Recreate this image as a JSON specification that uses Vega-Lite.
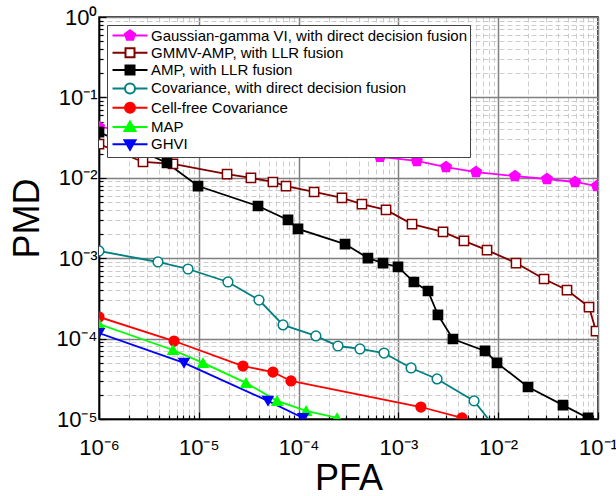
{
  "$schema": "https://vega.github.io/schema/vega-lite/v6.json",
  "width": 499,
  "height": 402,
  "autosize": {"type": "none"},
  "padding": {"left": 99, "top": 17, "right": 18, "bottom": 77},
  "background": "white",
  "config": {
    "view": {"stroke": "black", "strokeWidth": 1.5},
    "font": "Liberation Sans"
  },
  "data": {
    "values": [
      {"s": "Gaussian-gamma VI, with direct decision fusion", "x": 1e-6, "y": 0.0428},
      {"s": "Gaussian-gamma VI, with direct decision fusion", "x": 6.55e-4, "y": 0.0182},
      {"s": "Gaussian-gamma VI, with direct decision fusion", "x": 1.53e-3, "y": 0.0162},
      {"s": "Gaussian-gamma VI, with direct decision fusion", "x": 3.0e-3, "y": 0.0136},
      {"s": "Gaussian-gamma VI, with direct decision fusion", "x": 6.0e-3, "y": 0.0118},
      {"s": "Gaussian-gamma VI, with direct decision fusion", "x": 0.0147, "y": 0.0105},
      {"s": "Gaussian-gamma VI, with direct decision fusion", "x": 0.0308, "y": 0.00966},
      {"s": "Gaussian-gamma VI, with direct decision fusion", "x": 0.0589, "y": 0.00887},
      {"s": "Gaussian-gamma VI, with direct decision fusion", "x": 0.0977, "y": 0.0079},
      {"s": "GMMV-AMP, with LLR fusion", "x": 1e-6, "y": 0.0263},
      {"s": "GMMV-AMP, with LLR fusion", "x": 2.76e-6, "y": 0.01573},
      {"s": "GMMV-AMP, with LLR fusion", "x": 5.51e-6, "y": 0.01486},
      {"s": "GMMV-AMP, with LLR fusion", "x": 1.92e-5, "y": 0.01114},
      {"s": "GMMV-AMP, with LLR fusion", "x": 3.33e-5, "y": 0.00995},
      {"s": "GMMV-AMP, with LLR fusion", "x": 5.53e-5, "y": 0.00887},
      {"s": "GMMV-AMP, with LLR fusion", "x": 7.48e-5, "y": 0.0079},
      {"s": "GMMV-AMP, with LLR fusion", "x": 1.43e-4, "y": 0.00666},
      {"s": "GMMV-AMP, with LLR fusion", "x": 2.72e-4, "y": 0.00561},
      {"s": "GMMV-AMP, with LLR fusion", "x": 4.31e-4, "y": 0.00472},
      {"s": "GMMV-AMP, with LLR fusion", "x": 7.52e-4, "y": 0.00398},
      {"s": "GMMV-AMP, with LLR fusion", "x": 1.37e-3, "y": 0.00266},
      {"s": "GMMV-AMP, with LLR fusion", "x": 2.80e-3, "y": 0.00212},
      {"s": "GMMV-AMP, with LLR fusion", "x": 4.54e-3, "y": 0.00164},
      {"s": "GMMV-AMP, with LLR fusion", "x": 7.73e-3, "y": 0.00126},
      {"s": "GMMV-AMP, with LLR fusion", "x": 0.0151, "y": 8.71e-4},
      {"s": "GMMV-AMP, with LLR fusion", "x": 0.0288, "y": 5.51e-4},
      {"s": "GMMV-AMP, with LLR fusion", "x": 0.0489, "y": 4.02e-4},
      {"s": "GMMV-AMP, with LLR fusion", "x": 0.0813, "y": 2.47e-4},
      {"s": "GMMV-AMP, with LLR fusion", "x": 0.0955, "y": 1.24e-4},
      {"s": "AMP, with LLR fusion", "x": 1e-6, "y": 0.0371},
      {"s": "AMP, with LLR fusion", "x": 4.80e-6, "y": 0.0153},
      {"s": "AMP, with LLR fusion", "x": 9.82e-6, "y": 0.0079},
      {"s": "AMP, with LLR fusion", "x": 3.92e-5, "y": 0.00446},
      {"s": "AMP, with LLR fusion", "x": 7.83e-5, "y": 0.00299},
      {"s": "AMP, with LLR fusion", "x": 9.86e-5, "y": 0.00231},
      {"s": "AMP, with LLR fusion", "x": 2.92e-4, "y": 0.0015},
      {"s": "AMP, with LLR fusion", "x": 4.95e-4, "y": 0.001005},
      {"s": "AMP, with LLR fusion", "x": 7.01e-4, "y": 8.71e-4},
      {"s": "AMP, with LLR fusion", "x": 9.91e-4, "y": 7.78e-4},
      {"s": "AMP, with LLR fusion", "x": 1.43e-3, "y": 5.06e-4},
      {"s": "AMP, with LLR fusion", "x": 1.98e-3, "y": 3.91e-4},
      {"s": "AMP, with LLR fusion", "x": 2.49e-3, "y": 1.97e-4},
      {"s": "AMP, with LLR fusion", "x": 3.52e-3, "y": 9.89e-5},
      {"s": "AMP, with LLR fusion", "x": 7.38e-3, "y": 7.02e-5},
      {"s": "AMP, with LLR fusion", "x": 9.73e-3, "y": 4.98e-5},
      {"s": "AMP, with LLR fusion", "x": 0.0199, "y": 2.50e-5},
      {"s": "AMP, with LLR fusion", "x": 0.0446, "y": 1.49e-5},
      {"s": "AMP, with LLR fusion", "x": 0.0794, "y": 1.03e-5},
      {"s": "Covariance, with direct decision fusion", "x": 1e-6, "y": 1.23e-3},
      {"s": "Covariance, with direct decision fusion", "x": 3.90e-6, "y": 8.97e-4},
      {"s": "Covariance, with direct decision fusion", "x": 7.80e-6, "y": 7.34e-4},
      {"s": "Covariance, with direct decision fusion", "x": 1.96e-5, "y": 5.06e-4},
      {"s": "Covariance, with direct decision fusion", "x": 4.01e-5, "y": 3.02e-4},
      {"s": "Covariance, with direct decision fusion", "x": 6.98e-5, "y": 1.48e-4},
      {"s": "Covariance, with direct decision fusion", "x": 1.49e-4, "y": 1.08e-4},
      {"s": "Covariance, with direct decision fusion", "x": 2.48e-4, "y": 8.09e-5},
      {"s": "Covariance, with direct decision fusion", "x": 4.12e-4, "y": 7.43e-5},
      {"s": "Covariance, with direct decision fusion", "x": 7.18e-4, "y": 6.62e-5},
      {"s": "Covariance, with direct decision fusion", "x": 1.34e-3, "y": 4.31e-5},
      {"s": "Covariance, with direct decision fusion", "x": 2.44e-3, "y": 3.15e-5},
      {"s": "Covariance, with direct decision fusion", "x": 5.73e-3, "y": 1.68e-5},
      {"s": "Covariance, with direct decision fusion", "x": 9.73e-3, "y": 7.3e-6},
      {"s": "Cell-free Covariance", "x": 1e-6, "y": 1.86e-4},
      {"s": "Cell-free Covariance", "x": 5.65e-6, "y": 9.33e-5},
      {"s": "Cell-free Covariance", "x": 2.77e-5, "y": 4.56e-5},
      {"s": "Cell-free Covariance", "x": 5.53e-5, "y": 3.84e-5},
      {"s": "Cell-free Covariance", "x": 8.39e-5, "y": 2.97e-5},
      {"s": "Cell-free Covariance", "x": 1.68e-3, "y": 1.41e-5},
      {"s": "Cell-free Covariance", "x": 4.34e-3, "y": 1.03e-5},
      {"s": "MAP", "x": 1e-6, "y": 1.52e-4},
      {"s": "MAP", "x": 5.51e-6, "y": 7.21e-5},
      {"s": "MAP", "x": 1.10e-5, "y": 4.98e-5},
      {"s": "MAP", "x": 2.97e-5, "y": 2.81e-5},
      {"s": "MAP", "x": 6.08e-5, "y": 1.68e-5},
      {"s": "MAP", "x": 1.19e-4, "y": 1.26e-5},
      {"s": "MAP", "x": 2.43e-4, "y": 1.03e-5},
      {"s": "GHVI", "x": 1e-6, "y": 1.17e-4},
      {"s": "GHVI", "x": 7.11e-6, "y": 4.98e-5},
      {"s": "GHVI", "x": 4.93e-5, "y": 1.68e-5},
      {"s": "GHVI", "x": 1.11e-4, "y": 1.03e-5}
    ]
  },
  "layer": [
    {
      "mark": {"type": "line", "strokeWidth": 1.8, "clip": true},
      "encoding": {
        "x": {
          "field": "x",
          "type": "quantitative",
          "scale": {"type": "log", "domain": [1e-6, 0.1], "nice": false},
          "axis": {
            "values": [1e-6, 2e-6, 3e-6, 4e-6, 5e-6, 6e-6, 7e-6, 8e-6, 9e-6, 1e-5, 2e-5, 3e-5, 4e-5, 5e-5, 6e-5, 7e-5, 8e-5, 9e-5, 1e-4, 2e-4, 3e-4, 4e-4, 5e-4, 6e-4, 7e-4, 8e-4, 9e-4, 1e-3, 2e-3, 3e-3, 4e-3, 5e-3, 6e-3, 7e-3, 8e-3, 9e-3, 0.01, 0.02, 0.03, 0.04, 0.05, 0.06, 0.07, 0.08, 0.09, 0.1],
            "labelExpr": "abs(log(datum.value)/LN10 - round(log(datum.value)/LN10)) < 0.000001 ? '10' + (round(log(datum.value)/LN10) < 0 ? '⁻' : '') + ['⁰','¹','²','³','⁴','⁵','⁶'][abs(round(log(datum.value)/LN10))] : ''",
            "labelFontSize": 22,
            "labelFont": "Liberation Sans",
            "labelColor": "black",
            "labelPadding": 25,
            "labelFlush": false,
            "labelOverlap": false,
            "domainColor": "black",
            "domainWidth": 1.5,
            "tickColor": "black",
            "tickWidth": 1.2,
            "tickSize": {"condition": {"test": "abs(log(datum.value)/LN10 - round(log(datum.value)/LN10)) < 0.000001", "value": -7}, "value": -4},
            "grid": true,
            "gridColor": {"condition": {"test": "abs(log(datum.value)/LN10 - round(log(datum.value)/LN10)) < 0.000001", "value": "#808080"}, "value": "#cccccc"},
            "gridDash": {"condition": {"test": "abs(log(datum.value)/LN10 - round(log(datum.value)/LN10)) < 0.000001", "value": []}, "value": [5, 3]},
            "gridWidth": {"condition": {"test": "abs(log(datum.value)/LN10 - round(log(datum.value)/LN10)) < 0.000001", "value": 1.5}, "value": 1},
            "title": "PFA",
            "titleFont": "Liberation Sans",
            "titleFontSize": 36,
            "titleFontWeight": "normal",
            "titleColor": "black",
            "titlePadding": 0
          }
        },
        "y": {
          "field": "y",
          "type": "quantitative",
          "scale": {"type": "log", "domain": [1e-5, 1], "nice": false},
          "axis": {
            "values": [1e-5, 2e-5, 3e-5, 4e-5, 5e-5, 6e-5, 7e-5, 8e-5, 9e-5, 1e-4, 2e-4, 3e-4, 4e-4, 5e-4, 6e-4, 7e-4, 8e-4, 9e-4, 1e-3, 2e-3, 3e-3, 4e-3, 5e-3, 6e-3, 7e-3, 8e-3, 9e-3, 0.01, 0.02, 0.03, 0.04, 0.05, 0.06, 0.07, 0.08, 0.09, 0.1, 0.2, 0.3, 0.4, 0.5, 0.6, 0.7, 0.8, 0.9, 1],
            "labelExpr": "abs(log(datum.value)/LN10 - round(log(datum.value)/LN10)) < 0.000001 ? '10' + (round(log(datum.value)/LN10) < 0 ? '⁻' : '') + ['⁰','¹','²','³','⁴','⁵','⁶'][abs(round(log(datum.value)/LN10))] : ''",
            "labelFontSize": 22,
            "labelFont": "Liberation Sans",
            "labelColor": "black",
            "labelPadding": 9,
            "labelFlush": false,
            "labelOverlap": false,
            "domainColor": "black",
            "domainWidth": 1.5,
            "tickColor": "black",
            "tickWidth": 1.2,
            "tickSize": {"condition": {"test": "abs(log(datum.value)/LN10 - round(log(datum.value)/LN10)) < 0.000001", "value": -7}, "value": -4},
            "grid": true,
            "gridColor": {"condition": {"test": "abs(log(datum.value)/LN10 - round(log(datum.value)/LN10)) < 0.000001", "value": "#808080"}, "value": "#cccccc"},
            "gridDash": {"condition": {"test": "abs(log(datum.value)/LN10 - round(log(datum.value)/LN10)) < 0.000001", "value": []}, "value": [5, 3]},
            "gridWidth": {"condition": {"test": "abs(log(datum.value)/LN10 - round(log(datum.value)/LN10)) < 0.000001", "value": 1.5}, "value": 1},
            "title": "PMD",
            "titleFont": "Liberation Sans",
            "titleFontSize": 36,
            "titleFontWeight": "normal",
            "titleColor": "black",
            "titlePadding": 10
          }
        },
        "color": {
          "field": "s",
          "type": "nominal",
          "scale": {
            "domain": ["Gaussian-gamma VI, with direct decision fusion", "GMMV-AMP, with LLR fusion", "AMP, with LLR fusion", "Covariance, with direct decision fusion", "Cell-free Covariance", "MAP", "GHVI"],
            "range": ["#FF00FF", "#800000", "#000000", "#008080", "#FF0000", "#00FF00", "#0000FF"]
          },
          "legend": {
            "title": null,
            "orient": "top-left",
            "offset": 8,
            "padding": 3,
            "rowPadding": 0.3,
            "strokeColor": "#444444",
            "fillColor": "white",
            "cornerRadius": 0,
            "symbolSize": 100,
            "symbolStrokeWidth": 2,
            "labelFont": "Liberation Sans",
            "labelFontSize": 15,
            "labelColor": "black",
            "labelOffset": 26,
            "labelLimit": 400,
            "encode": {
              "symbols": {
                "update": {
                  "shape": {"signal": "['M-1,0H6M2.5,-1.05L3.5,-0.32L3.12,0.85L1.88,0.85L1.5,-0.32Z','M-1,0H1.6M3.4,0H6M1.6,-0.9H3.4V0.9H1.6Z','M-1,0H6M1.6,-0.9H3.4V0.9H1.6Z','M-1,0H1.5M3.5,0H6M1.5,0A1,1 0 1,0 3.5,0A1,1 0 1,0 1.5,0Z','M-1,0H6M1.5,0A1,1 0 1,0 3.5,0A1,1 0 1,0 1.5,0Z','M-1,0H6M2.5,-1.1L3.6,0.8L1.4,0.8Z','M-1,0H6M2.5,1.1L3.6,-0.8L1.4,-0.8Z'][indexof(['Gaussian-gamma VI, with direct decision fusion','GMMV-AMP, with LLR fusion','AMP, with LLR fusion','Covariance, with direct decision fusion','Cell-free Covariance','MAP','GHVI'], datum.value)]"},
                  "fill": {"signal": "['#FF00FF','white','#000000','white','#FF0000','#00FF00','#0000FF'][indexof(['Gaussian-gamma VI, with direct decision fusion','GMMV-AMP, with LLR fusion','AMP, with LLR fusion','Covariance, with direct decision fusion','Cell-free Covariance','MAP','GHVI'], datum.value)]"},
                  "fillOpacity": {"value": 1},
                  "strokeWidth": {"value": 2}
                }
              }
            }
          }
        }
      }
    },
    {
      "transform": [{"filter": {"field": "s", "oneOf": ["Gaussian-gamma VI, with direct decision fusion"]}}],
      "mark": {"type": "point", "clip": true, "opacity": 1, "fillOpacity": 1, "strokeWidth": 1.5, "size": 110, "shape": "M0,-1.05L1,-0.32L0.62,0.85L-0.62,0.85L-1,-0.32Z"},
      "encoding": {
        "x": {"field": "x", "type": "quantitative"},
        "y": {"field": "y", "type": "quantitative"},
        "stroke": {"field": "s", "type": "nominal", "scale": {"domain": ["Gaussian-gamma VI, with direct decision fusion", "GMMV-AMP, with LLR fusion", "AMP, with LLR fusion", "Covariance, with direct decision fusion", "Cell-free Covariance", "MAP", "GHVI"], "range": ["#FF00FF", "#800000", "#000000", "#008080", "#FF0000", "#00FF00", "#0000FF"]}, "legend": null},
        "fill": {"field": "s", "type": "nominal", "scale": {"domain": ["Gaussian-gamma VI, with direct decision fusion", "GMMV-AMP, with LLR fusion", "AMP, with LLR fusion", "Covariance, with direct decision fusion", "Cell-free Covariance", "MAP", "GHVI"], "range": ["#FF00FF", "#FFFFFF", "#000000", "#FFFFFF", "#FF0000", "#00FF00", "#0000FF"]}, "legend": null}
      }
    },
    {
      "transform": [{"filter": {"field": "s", "oneOf": ["GMMV-AMP, with LLR fusion", "AMP, with LLR fusion"]}}],
      "mark": {"type": "point", "clip": true, "opacity": 1, "fillOpacity": 1, "strokeWidth": 1.5, "size": 85, "shape": "square"},
      "encoding": {
        "x": {"field": "x", "type": "quantitative"},
        "y": {"field": "y", "type": "quantitative"},
        "stroke": {"field": "s", "type": "nominal", "legend": null},
        "fill": {"field": "s", "type": "nominal", "legend": null}
      }
    },
    {
      "transform": [{"filter": {"field": "s", "oneOf": ["Covariance, with direct decision fusion", "Cell-free Covariance"]}}],
      "mark": {"type": "point", "clip": true, "opacity": 1, "fillOpacity": 1, "strokeWidth": 1.5, "size": 95, "shape": "circle"},
      "encoding": {
        "x": {"field": "x", "type": "quantitative"},
        "y": {"field": "y", "type": "quantitative"},
        "stroke": {"field": "s", "type": "nominal", "legend": null},
        "fill": {"field": "s", "type": "nominal", "legend": null}
      }
    },
    {
      "transform": [{"filter": {"field": "s", "oneOf": ["MAP"]}}],
      "mark": {"type": "point", "clip": true, "opacity": 1, "fillOpacity": 1, "strokeWidth": 1.5, "size": 100, "shape": "triangle-up"},
      "encoding": {
        "x": {"field": "x", "type": "quantitative"},
        "y": {"field": "y", "type": "quantitative"},
        "stroke": {"field": "s", "type": "nominal", "legend": null},
        "fill": {"field": "s", "type": "nominal", "legend": null}
      }
    },
    {
      "transform": [{"filter": {"field": "s", "oneOf": ["GHVI"]}}],
      "mark": {"type": "point", "clip": true, "opacity": 1, "fillOpacity": 1, "strokeWidth": 1.5, "size": 100, "shape": "triangle-down"},
      "encoding": {
        "x": {"field": "x", "type": "quantitative"},
        "y": {"field": "y", "type": "quantitative"},
        "stroke": {"field": "s", "type": "nominal", "legend": null},
        "fill": {"field": "s", "type": "nominal", "legend": null}
      }
    }
  ]
}
